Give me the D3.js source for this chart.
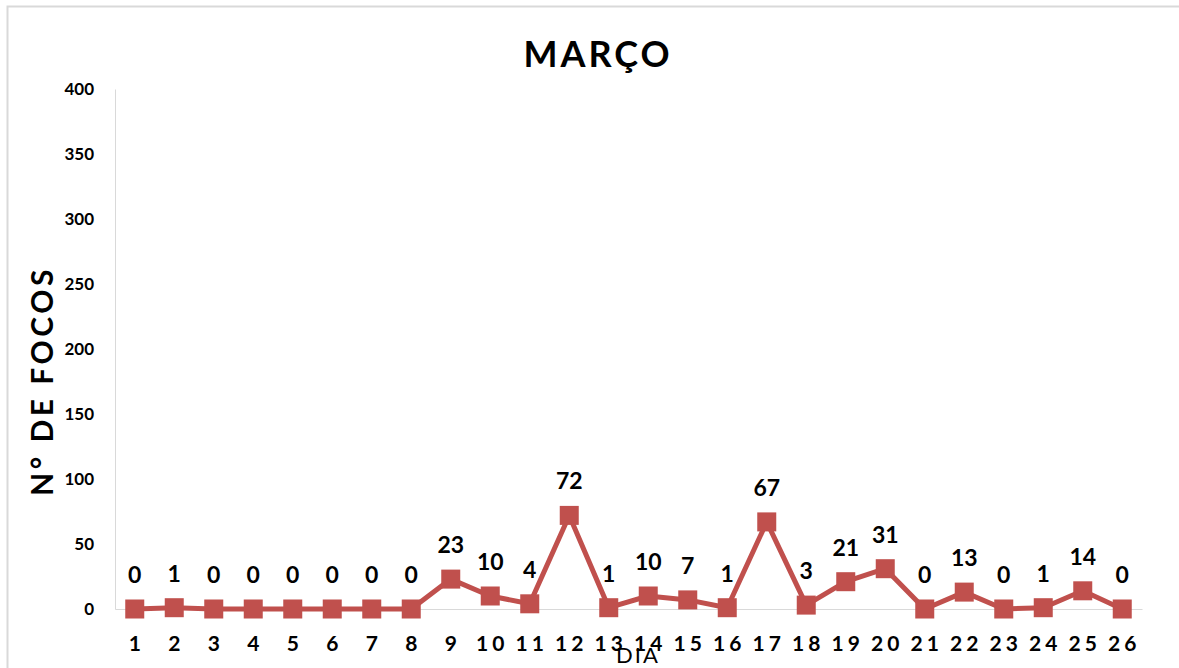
<!DOCTYPE html>
<html>
<head>
<meta charset="utf-8">
<script src="https://cdn.jsdelivr.net/npm/d3@7"></script>
<style>
  body { margin: 0; background: #fff; }
  svg text { font-family: Lato, "Open Sans", sans-serif; font-weight: bold; fill: #000; }
</style>
</head>
<body>
<div id="plot"></div>
<script>
// Chart data
const days = ["1","2","3","4","5","6","7","8","9","10","11","12","13","14","15","16","17","18","19","20","21","22","23","24","25","26"];
const focos = [0,1,0,0,0,0,0,0,23,10,4,72,1,10,7,1,67,3,21,31,0,13,0,1,14,0];
const yTicks = [0,50,100,150,200,250,300,350,400];

const width = 1179, height = 668;
const margin = { top: 89, right: 37, bottom: 59, left: 115 };
const plotW = width - margin.left - margin.right;
const plotH = height - margin.top - margin.bottom;

const svg = d3.select("div#plot")
  .append("svg")
  .attr("width", width)
  .attr("height", height);

// chart frame (light grey border)
svg.append("rect")
  .attr("x", 7.5).attr("y", 6.5)
  .attr("width", width + 10).attr("height", height + 10)
  .attr("fill", "none")
  .attr("stroke", "#d9d9d9")
  .attr("stroke-width", 2);

const g = svg.append("g")
  .attr("transform", `translate(${margin.left}, ${margin.top})`);

// scales
const xScale = d3.scaleBand().domain(days).range([0, plotW]);
const yScale = d3.scaleLinear().domain([0, 400]).range([plotH, 0]);

// axes
const yAxis = g.append("g")
  .call(d3.axisLeft(yScale).tickValues(yTicks).tickSize(0).tickPadding(21));
yAxis.select(".domain").attr("stroke", "#d9d9d9");
yAxis.selectAll("text").style("font-size", "17px");

const xAxis = g.append("g")
  .attr("transform", `translate(0, ${plotH})`)
  .call(d3.axisBottom(xScale).tickSize(0).tickPadding(27));
xAxis.select(".domain").attr("stroke", "#d9d9d9");
xAxis.selectAll("text")
  .style("font-size", "21px")
  .style("letter-spacing", "4px")
  .attr("dx", "2px");

// line
const cx = d => xScale(d) + xScale.bandwidth() / 2;
const line = d3.line()
  .x((d, i) => cx(days[i]))
  .y(d => yScale(d));

g.append("path")
  .datum(focos)
  .attr("fill", "none")
  .attr("stroke", "#c0504d")
  .attr("stroke-width", 5)
  .attr("stroke-linejoin", "round")
  .attr("d", line);

// markers
const ms = 19;
g.selectAll(".marker")
  .data(focos)
  .join("rect")
  .attr("class", "marker")
  .attr("x", (d, i) => cx(days[i]) - ms / 2)
  .attr("y", d => yScale(d) - ms / 2)
  .attr("width", ms)
  .attr("height", ms)
  .attr("fill", "#c0504d");

// data labels
g.selectAll(".label")
  .data(focos)
  .join("text")
  .attr("class", "label")
  .attr("x", (d, i) => cx(days[i]))
  .attr("y", d => yScale(d) - 26)
  .attr("text-anchor", "middle")
  .style("font-size", "23px")
  .text(d => d);

// title
svg.append("text")
  .attr("x", 598)
  .attr("y", 67)
  .attr("text-anchor", "middle")
  .style("font-size", "36px")
  .style("letter-spacing", "3px")
  .text("MARÇO");

// axis titles
svg.append("text")
  .attr("x", 638)
  .attr("y", 663)
  .attr("text-anchor", "middle")
  .style("font-size", "22px")
  .style("font-weight", "normal")
  .style("letter-spacing", "2px")
  .text("DIA");

svg.append("text")
  .attr("transform", "translate(53, 381) rotate(-90)")
  .attr("text-anchor", "middle")
  .style("font-size", "30px")
  .style("letter-spacing", "3.5px")
  .text("N° DE FOCOS");
</script>
</body>
</html>
